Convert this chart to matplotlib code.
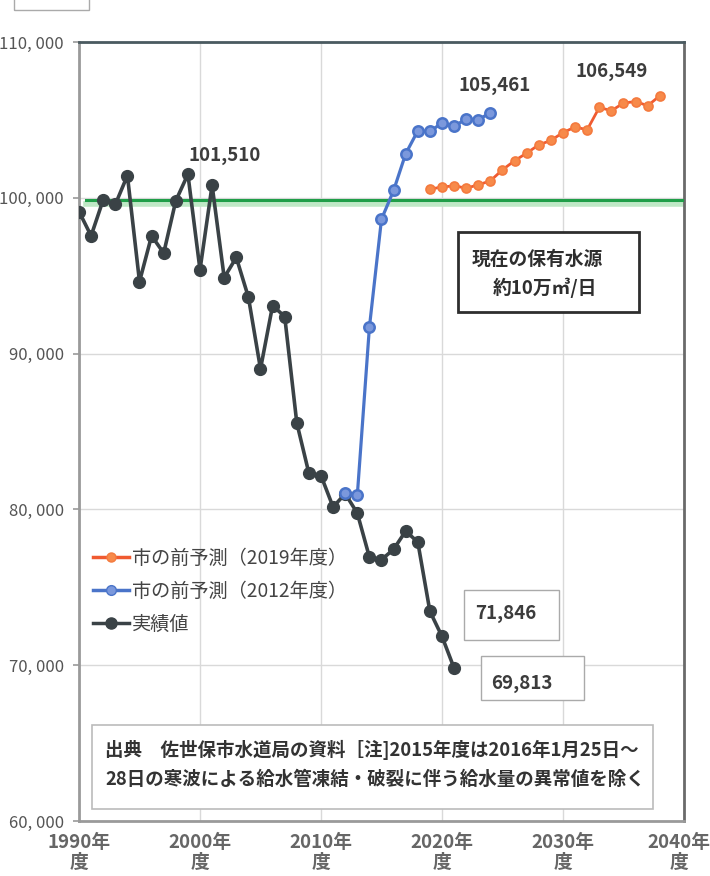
import matplotlib
matplotlib.use("Agg")
import matplotlib.pyplot as plt
from matplotlib.patches import Rectangle
from matplotlib.lines import Line2D
from matplotlib.transforms import ScaledTranslation

plt.rcParams['font.family'] = ['Noto Sans CJK JP', 'DejaVu Sans']

# ---------------- data ----------------
years_actual = [1990, 1991, 1992, 1993, 1994, 1995, 1996, 1997, 1998, 1999,
                2000, 2001, 2002, 2003, 2004, 2005, 2006, 2007, 2008, 2009,
                2010, 2011, 2012, 2013, 2014, 2015, 2016, 2017, 2018, 2019,
                2020, 2021]
actual = [99120, 97560, 99870, 99570, 101430, 94620, 97560, 96450, 99810, 101510,
          95380, 100810, 94880, 96170, 93620, 89020, 93080, 92380, 85550, 82320,
          82170, 80150, 81010, 79760, 76940, 76770, 77440, 78610, 77900, 73460,
          71846, 69813]

years_2012 = [2012, 2013, 2014, 2015, 2016, 2017, 2018, 2019, 2020, 2021,
              2022, 2023, 2024]
forecast_2012 = [81040, 80900, 91690, 98630, 100470, 102830, 104300, 104260,
                 104800, 104580, 105070, 105010, 105461]

years_2019 = [2019, 2020, 2021, 2022, 2023, 2024, 2025, 2026, 2027, 2028,
              2029, 2030, 2031, 2032, 2033, 2034, 2035, 2036, 2037, 2038]
forecast_2019 = [100560, 100690, 100770, 100620, 100830, 101090, 101800, 102380,
                 102870, 103400, 103680, 104190, 104540, 104370, 105800, 105590,
                 106080, 106180, 105910, 106549]

source_capacity = 99870   # 現在の保有水源 約10万㎥/日

x_ticks = [1990, 2000, 2010, 2020, 2030, 2040]
x_ticklabels = ["1990年\n度", "2000年\n度", "2010年\n度", "2020年\n度", "2030年\n度", "2040年\n度"]
y_ticks = [60000, 70000, 80000, 90000, 100000, 110000]
y_ticklabels = ["60, 000", "70, 000", "80, 000", "90, 000", "100, 000", "110, 000"]

legend_labels = ["市の前予測（2019年度）", "市の前予測（2012年度）", "実績値"]

# ---------------- figure ----------------
W, H = 710, 876
fig = plt.figure(figsize=(W / 100, H / 100), dpi=100)
fig.patch.set_facecolor('white')
ax = fig.add_axes([79 / W, 1 - 821 / H, (684 - 79) / W, (821 - 42) / H])

ax.set_xlim(1990, 2040)
ax.set_ylim(60000, 110000)

# grid
ax.set_xticks(x_ticks)
ax.set_yticks(y_ticks)
ax.grid(True, color='#d9d9d9', lw=1.0, zorder=0)
ax.set_axisbelow(True)

# spines
ax.spines['top'].set_color('#4a5a60')
ax.spines['top'].set_linewidth(2.0)
ax.spines['right'].set_color('#6a6a6a')
ax.spines['right'].set_linewidth(2.0)
ax.spines['left'].set_color('#9a9a9a')
ax.spines['left'].set_linewidth(2.0)
ax.spines['bottom'].set_color('#9a9a9a')
ax.spines['bottom'].set_linewidth(2.0)

# green reference line (with pale band)
ax.axhline(source_capacity - 290, xmin=0.012, xmax=1, color='#bfe8c6', lw=4.0, zorder=2)
ax.axhline(source_capacity, xmin=0.012, xmax=1, color='#1f9e48', lw=2.2, zorder=3)

# series
c_black = '#3a4246'
c_blue = '#4a74c9'
c_orange = '#f05a30'

ax.plot(years_actual, actual, color=c_black, lw=2.6, marker='o', ms=8.5,
        mfc=c_black, mec=c_black, zorder=4)
ax.plot(years_2012, forecast_2012, color=c_blue, lw=2.3, marker='o', ms=7.5,
        mfc='#7b98dc', mec=c_blue, mew=1.8, zorder=5)
ax.plot(years_2019, forecast_2019, color=c_orange, lw=2.0, marker='o', ms=6.5,
        mfc='#f78a4a', mec='#f47a3e', mew=1.2, zorder=5)

# ticks
ax.set_yticklabels(y_ticklabels, fontsize=12, color='#555555')
ax.tick_params(axis='y', length=4, width=1.2, color='#9a9a9a', pad=7)
ax.set_xticklabels(x_ticklabels, fontsize=13.5, fontweight='bold', color='#666666',
                   linespacing=1.02)
ax.tick_params(axis='x', length=0, pad=9)
last = ax.get_xticklabels()[-1]
last.set_transform(last.get_transform() + ScaledTranslation(-5 / 100, 0, fig.dpi_scale_trans))

# value annotations
txt_kw = dict(fontsize=13.5, fontweight='bold', color='#3c3c3c', ha='center', va='center')
ax.text((225 - 79) / 605, (821 - 155) / 779, "101,510", transform=ax.transAxes, **txt_kw)
ax.text((495 - 79) / 605, (821 - 85) / 779, "105,461", transform=ax.transAxes, **txt_kw)
ax.text((612 - 79) / 605, (821 - 71) / 779, "106,549", transform=ax.transAxes, **txt_kw)

# boxed values
ax.add_patch(Rectangle((0.636, 0.2324), 0.157, 0.0642, transform=ax.transAxes,
                       fill=True, fc='white', ec='#aaaaaa', lw=1.0, zorder=6))
ax.text(0.706, 0.267, "71,846", transform=ax.transAxes, zorder=7, **txt_kw)
ax.add_patch(Rectangle((0.664, 0.155), 0.170, 0.0565, transform=ax.transAxes,
                       fill=True, fc='white', ec='#aaaaaa', lw=1.0, zorder=6))
ax.text(0.732, 0.177, "69,813", transform=ax.transAxes, zorder=7, **txt_kw)

# water source box
ax.add_patch(Rectangle((0.626, 0.653), 0.299, 0.103, transform=ax.transAxes,
                       fill=True, fc='white', ec='#2e2e2e', lw=2.0, zorder=6))
ax.text(0.757, 0.721, "現在の保有水源", transform=ax.transAxes, zorder=7,
        fontsize=13.5, fontweight='bold', color='#2e2e2e', ha='center', va='center')
ax.text(0.770, 0.684, "約10万㎥/日", transform=ax.transAxes, zorder=7,
        fontsize=13.5, fontweight='bold', color='#2e2e2e', ha='center', va='center')

# note box
ax.add_patch(Rectangle((0.0215, 0.0154), 0.927, 0.108, transform=ax.transAxes,
                       fill=True, fc='white', ec='#bbbbbb', lw=1.2, zorder=6))
ax.text(0.043, 0.0911, "出典　佐世保市水道局の資料［注]2015年度は2016年1月25日～",
        transform=ax.transAxes, zorder=7, fontsize=13.3, fontweight='bold',
        color='#333333', ha='left', va='center')
ax.text(0.043, 0.0539, "28日の寒波による給水管凍結・破裂に伴う給水量の異常値を除く",
        transform=ax.transAxes, zorder=7, fontsize=13.3, fontweight='bold',
        color='#333333', ha='left', va='center')

# legend
handles = [
    Line2D([], [], color=c_orange, lw=2.5, marker='o', ms=6.5, mfc='#f78a4a', mec='#f47a3e'),
    Line2D([], [], color=c_blue, lw=2.5, marker='o', ms=7, mfc='#7b98dc', mec=c_blue),
    Line2D([], [], color=c_black, lw=2.5, marker='o', ms=8, mfc=c_black, mec=c_black),
]
leg = ax.legend(handles, legend_labels, loc='upper left',
                bbox_to_anchor=((93 - 79) / 605, (821 - 548) / 779),
                frameon=False, fontsize=13.8, handlelength=1.9, handletextpad=0.15,
                labelspacing=0.62, borderaxespad=0, borderpad=0)
for t in leg.get_texts():
    t.set_color('#444444')

# small empty box at the top-left corner
fig.patches.append(Rectangle((14 / W, 1 - 10 / H), 75 / W, 14 / H, transform=fig.transFigure,
                             fill=False, ec='#aaaaaa', lw=1.0))

fig.savefig("out.png", dpi=100, facecolor='white')
